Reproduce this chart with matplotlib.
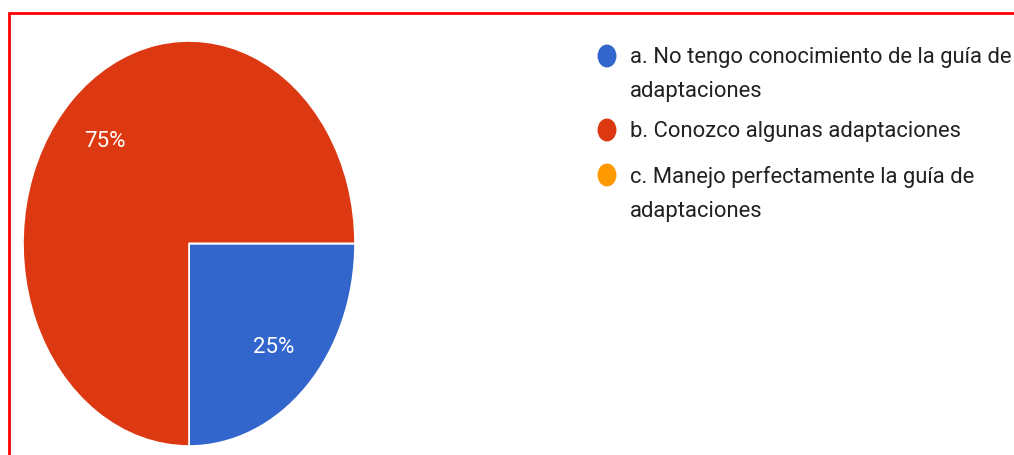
import textwrap
import matplotlib.pyplot as plt
from matplotlib.patches import Ellipse
from matplotlib import font_manager

labels = ['a. No tengo conocimiento de la guía de adaptaciones',
          'b. Conozco algunas adaptaciones',
          'c. Manejo perfectamente la guía de adaptaciones']
shares = [25, 75, 0]
colors = ['#3366cc', '#dc3912', '#ff9900']

# narrow font, the reference looks squeezed sideways
names = {f.name for f in font_manager.fontManager.ttflist}
fam = 'Liberation Sans Narrow' if 'Liberation Sans Narrow' in names else 'Roboto'

fig = plt.figure(figsize=(10.14, 4.56), dpi=100)

# pie, stretched vertically like the screenshot
ax = fig.add_axes([23 / 1014, 9 / 456, 332 / 1014, 405 / 456])
wedges, texts, autotexts = ax.pie(
    shares, colors=colors, startangle=0, counterclock=False,
    autopct=lambda p: '%d%%' % round(p) if p > 0 else '',
    pctdistance=0.72, radius=1,
    wedgeprops=dict(edgecolor='white', linewidth=1.2),
    textprops=dict(color='white', fontsize=16, family=fam))
ax.set_aspect('auto')
ax.set_xlim(-1, 1)
ax.set_ylim(-1, 1)
ax.axis('off')

# overlay in pixel units for legend and frame
ov = fig.add_axes([0, 0, 1, 1], zorder=5)
ov.set_xlim(0, 1014)
ov.set_ylim(456, 0)
ov.axis('off')
ov.patch.set_alpha(0)

ov.plot([8.5, 8.5, 1014], [456, 13.5, 13.5], color='#ff0000', lw=2,
        solid_capstyle='butt', solid_joinstyle='miter')

ys = [57, 131, 176]
for lab, col, y in zip(labels, colors, ys):
    ov.add_patch(Ellipse((607, y), 17.5, 21.5, color=col))
    ov.text(630, y - 10, textwrap.fill(lab, 38), ha='left', va='top',
            fontsize=15.8, family=fam, color='#212121', linespacing=1.8)

fig.savefig('out.png', dpi=100)
